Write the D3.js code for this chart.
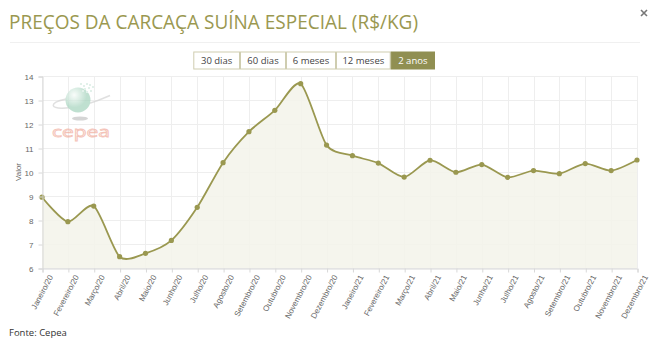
<!DOCTYPE html>
<html>
<head>
<meta charset="utf-8">
<script src="https://cdn.jsdelivr.net/npm/d3@7"></script>
<style>
  body { margin: 0; background: #fff; }
  svg { display: block; font-family: "Open Sans", sans-serif; }
</style>
</head>
<body>
<svg id="chart" width="650" height="347"></svg>
<script>
// data
var months = ["Janeiro/20","Fevereiro/20","Março/20","Abril/20","Maio/20","Junho/20","Julho/20","Agosto/20",
  "Setembro/20","Outubro/20","Novembro/20","Dezembro/20","Janeiro/21","Fevereiro/21","Março/21","Abril/21",
  "Maio/21","Junho/21","Julho/21","Agosto/21","Setembro/21","Outubro/21","Novembro/21","Dezembro/21"]
var values = [8.95, 7.93, 8.58, 6.47, 6.61, 7.15, 8.53, 10.39, 11.68, 12.57, 13.68, 11.12,
  10.68, 10.37, 9.79, 10.49, 9.99, 10.31, 9.78, 10.06, 9.93, 10.35, 10.06, 10.5]
var yTicks = [6, 7, 8, 9, 10, 11, 12, 13, 14]
var buttons = ["30 dias", "60 dias", "6 meses", "12 meses", "2 anos"]
var buttonWidths = [46.7, 46, 50, 54.7, 44.3]

var olive = "#9a9850"
var dimensions = {
  width: 650,
  height: 347,
  margin: { top: 76, bottom: 79, left: 42, right: 13 }
}

var svg = d3.select("#chart")

// title, close mark and separator
svg.append("text")
  .attr("x", 9).attr("y", 29)
  .style("font-size", "20px")
  .attr("textLength", 409)
  .attr("lengthAdjust", "spacingAndGlyphs")
  .attr("fill", olive)
  .text("PREÇOS DA CARCAÇA SUÍNA ESPECIAL (R$/KG)")

svg.append("path")
  .attr("d", "M641,10 L647,16 M647,10 L641,16")
  .attr("stroke", "#777")
  .attr("stroke-width", 1.6)

svg.append("line")
  .attr("x1", 10).attr("x2", 640)
  .attr("y1", 42.5).attr("y2", 42.5)
  .attr("stroke", "#f0f0f0")

// range buttons
var bx = 193.3
buttons.forEach(function(b, i){
  var w = buttonWidths[i]
  var active = i == buttons.length - 1
  svg.append("rect")
    .attr("x", bx + 0.5).attr("y", 52)
    .attr("width", w - 1).attr("height", 17)
    .attr("fill", active ? "#908f52" : "#fff")
    .attr("stroke", active ? "#908f52" : "#cfcdb0")
  svg.append("text")
    .attr("x", bx + w / 2).attr("y", 64)
    .attr("text-anchor", "middle")
    .style("font-size", "9.5px")
    .attr("fill", active ? "#fff" : "#444")
    .text(b)
  bx += w
})

var xScale = d3.scalePoint()
  .domain(months)
  .range([dimensions.margin.left, dimensions.width - dimensions.margin.right])

var yScale = d3.scaleLinear()
  .domain([6, 14])
  .range([dimensions.height - dimensions.margin.bottom, dimensions.margin.top])

// grid
svg.append("g")
  .selectAll("line")
  .data(yTicks)
  .join("line")
  .attr("x1", dimensions.margin.left).attr("x2", dimensions.width - dimensions.margin.right)
  .attr("y1", d => yScale(d) + 0.5).attr("y2", d => yScale(d) + 0.5)
  .attr("stroke", "#eeeeee")

svg.append("g")
  .selectAll("line")
  .data(months)
  .join("line")
  .attr("x1", d => Math.round(xScale(d)) + 0.5).attr("x2", d => Math.round(xScale(d)) + 0.5)
  .attr("y1", dimensions.margin.top).attr("y2", dimensions.height - dimensions.margin.bottom)
  .attr("stroke", "#eeeeee")

// watermark logo
var defs = svg.append("defs")
var grad = defs.append("radialGradient")
  .attr("id", "globe").attr("cx", "35%").attr("cy", "30%")
grad.append("stop").attr("offset", "0%").attr("stop-color", "#f7fcf9")
grad.append("stop").attr("offset", "100%").attr("stop-color", "#a5d3bd")
var logo = svg.append("g").attr("opacity", 0.7)
logo.append("ellipse")
  .attr("cx", 80).attr("cy", 118.5).attr("rx", 8).attr("ry", 2)
  .attr("fill", "#c4c4c4")
logo.append("path")
  .attr("d", "M66,99 C48,103 50,109 66,108 C82,107 100,100 110,95.5")
  .attr("fill", "none").attr("stroke", "#d4d4d4").attr("stroke-width", 1.5)
logo.append("circle")
  .attr("cx", 78).attr("cy", 100).attr("r", 12.5)
  .attr("fill", "url(#globe)")
var pix = [[80,83],[83,85],[86,83],[84,88],[88,87],[90,90],[86,91],[82,90],[89,84],[92,86]]
logo.selectAll(".pix")
  .data(pix)
  .join("rect")
  .attr("x", d => d[0]).attr("y", d => d[1])
  .attr("width", 2).attr("height", 2)
  .attr("fill", "#d6ece2")
logo.append("text")
  .attr("x", 52).attr("y", 137)
  .style("font-size", "15px")
  .attr("textLength", 58)
  .attr("lengthAdjust", "spacingAndGlyphs")
  .attr("fill", "none")
  .attr("stroke", "#f0aa9a")
  .attr("stroke-width", 0.8)
  .text("cepea")

// area and line
var curve = d3.curveCardinal.tension(0.25)
var area = d3.area()
  .x((d, i) => xScale(months[i]))
  .y0(yScale(6))
  .y1(d => yScale(d))
  .curve(curve)
var line = d3.line()
  .x((d, i) => xScale(months[i]))
  .y(d => yScale(d))
  .curve(curve)

svg.append("path")
  .datum(values)
  .attr("d", area)
  .attr("fill", "#f3f3ea")
  .attr("fill-opacity", 0.85)

svg.append("path")
  .datum(values)
  .attr("d", line)
  .attr("fill", "none")
  .attr("stroke", olive)
  .attr("stroke-width", 1.8)

svg.append("g")
  .selectAll("circle")
  .data(values)
  .join("circle")
  .attr("cx", (d, i) => xScale(months[i]))
  .attr("cy", d => yScale(d))
  .attr("r", 2.6)
  .attr("fill", olive)

// axes
var yAxisGen = d3.axisLeft(yScale).tickValues(yTicks).tickSize(4).tickPadding(5)
var yAxis = svg.append("g")
  .attr("transform", "translate(" + (dimensions.margin.left + 0.5) + ",0.5)")
  .call(yAxisGen)
yAxis.select(".domain").attr("stroke", "#d8d8d8")
yAxis.selectAll(".tick line").attr("stroke", "#d8d8d8")
yAxis.selectAll("text")
  .attr("fill", "#666")
  .style("font-family", "'Liberation Sans', Arial, sans-serif")
  .style("font-size", "8px")

var xAxisGen = d3.axisBottom(xScale).tickSize(4).tickPadding(3)
var xAxis = svg.append("g")
  .attr("transform", "translate(0.5," + (dimensions.height - dimensions.margin.bottom + 0.5) + ")")
  .call(xAxisGen)
xAxis.select(".domain").attr("stroke", "#d8d8d8")
xAxis.selectAll(".tick line").attr("stroke", "#d8d8d8")
xAxis.selectAll("text")
  .attr("fill", "#666")
  .style("font-family", "'Liberation Sans', Arial, sans-serif")
  .style("font-size", "8px")
  .style("text-anchor", "end")
  .attr("dy", "0.3em")
  .attr("transform", "translate(2,4) rotate(-62)")

svg.append("text")
  .attr("transform", "translate(21," + yScale(10) + ") rotate(-90)")
  .attr("text-anchor", "middle")
  .style("font-family", "'Liberation Sans', Arial, sans-serif")
  .style("font-size", "8px")
  .attr("fill", "#666")
  .text("Valor")

svg.append("text")
  .attr("x", 9).attr("y", 336)
  .style("font-size", "9.5px")
  .attr("fill", "#333")
  .text("Fonte: Cepea")
</script>
</body>
</html>
